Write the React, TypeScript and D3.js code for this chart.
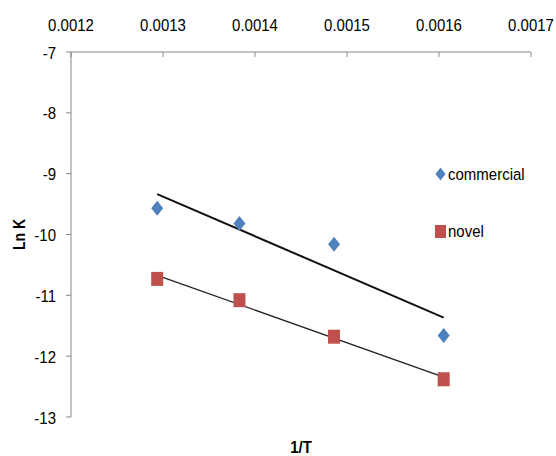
import React from "react";
import * as d3 from "d3";

const invT = [0.0012937, 0.0013831, 0.0014859, 0.0016051];
const commercial = [-9.57, -9.82, -10.16, -11.66];
const novel = [-10.73, -11.08, -11.68, -12.38];
const xTicks = [0.0012, 0.0013, 0.0014, 0.0015, 0.0016, 0.0017];
const yTicks = [-7, -8, -9, -10, -11, -12, -13];
const seriesNames = ["commercial", "novel"];

const W = 556;
const H = 456;
const FONT = "'Liberation Sans', Arial, sans-serif";
const SY = 1.15;

function fit(xs: number[], ys: number[]) {
  const mx = d3.mean(xs) as number;
  const my = d3.mean(ys) as number;
  let sxy = 0, sxx = 0;
  xs.forEach((x, i) => {
    sxy += (x - mx) * (ys[i] - my);
    sxx += (x - mx) * (x - mx);
  });
  const b = sxy / sxx;
  const a = my - b * mx;
  return (x: number) => a + b * x;
}

function T(props: {
  x: number;
  y: number;
  anchor?: string;
  size?: number;
  bold?: boolean;
  rotate?: number;
  children: React.ReactNode;
}) {
  const { x, y, anchor = "start", size = 15, bold = false, rotate = 0 } = props;
  return (
    <text
      transform={`translate(${x},${y}) rotate(${rotate}) scale(1,${SY})`}
      textAnchor={anchor}
      fontFamily={FONT}
      fontSize={size}
      fontWeight={bold ? "bold" : "normal"}
      fill="#000"
    >
      {props.children}
    </text>
  );
}

export default function App() {
  const x = d3.scaleLinear().domain([0.0012, 0.0017]).range([71, 531]);
  const y = d3.scaleLinear().domain([-7, -13]).range([52, 417]);
  const x0 = x.range()[0];
  const y0 = y.range()[0];
  const y1 = y.range()[1];
  const x1 = x.range()[1];
  const axisColor = "#868686";

  const line = d3
    .line<number>()
    .x((d) => x(d))
    .y((d) => d);

  const fC = fit(invT, commercial);
  const fN = fit(invT, novel);
  const ext = d3.extent(invT) as [number, number];

  const diamond = (cx: number, cy: number, w: number, h: number) =>
    `M${cx},${cy - h / 2}L${cx + w / 2},${cy}L${cx},${cy + h / 2}L${cx - w / 2},${cy}Z`;

  return (
    <svg
      width={W}
      height={H}
      style={{ position: "absolute", left: 0, top: 0, background: "#fff" }}
    >
      <rect x={0} y={0} width={W} height={H} fill="#fff" />
      {/* top x axis */}
      <line x1={x0} x2={x1} y1={y0} y2={y0} stroke={axisColor} strokeWidth={1} />
      {xTicks.map((t) => (
        <g key={t}>
          <line x1={x(t)} x2={x(t)} y1={y0} y2={y0 + 5} stroke={axisColor} />
          <T x={x(t)} y={31} anchor="middle">
            {t.toFixed(4)}
          </T>
        </g>
      ))}
      {/* left y axis */}
      <line x1={x0} x2={x0} y1={y0} y2={y1} stroke={axisColor} strokeWidth={1} />
      {yTicks.map((t) => (
        <g key={t}>
          <line x1={x0 - 5} x2={x0} y1={y(t)} y2={y(t)} stroke={axisColor} />
          <T x={56} y={y(t) + 6.5} anchor="end">
            {t}
          </T>
        </g>
      ))}
      {/* trend lines */}
      <path
        d={line.y((d) => y(fC(d)))(ext) || ""}
        stroke="#111"
        strokeWidth={2}
        fill="none"
      />
      <path
        d={line.y((d) => y(fN(d)))(ext) || ""}
        stroke="#222"
        strokeWidth={1.3}
        fill="none"
      />
      {/* markers */}
      {invT.map((t, i) => (
        <path key={"c" + i} d={diamond(x(t), y(commercial[i]), 12, 15)} fill="#4F81BD" />
      ))}
      {invT.map((t, i) => (
        <rect
          key={"n" + i}
          x={x(t) - 6}
          y={y(novel[i]) - 7}
          width={12}
          height={14}
          fill="#C0504D"
        />
      ))}
      {/* legend */}
      <path d={diamond(440.5, 174, 10, 13)} fill="#4F81BD" />
      <T x={448} y={180}>{seriesNames[0]}</T>
      <rect x={435} y={225} width={11} height={13} fill="#C0504D" />
      <T x={448} y={237}>{seriesNames[1]}</T>
      {/* axis titles */}
      <T x={25} y={(y0 + y1) / 2} anchor="middle" size={14} bold rotate={-90}>
        Ln K
      </T>
      <T x={(x0 + x1) / 2} y={453} anchor="middle" size={15} bold>
        1/T
      </T>
    </svg>
  );
}
